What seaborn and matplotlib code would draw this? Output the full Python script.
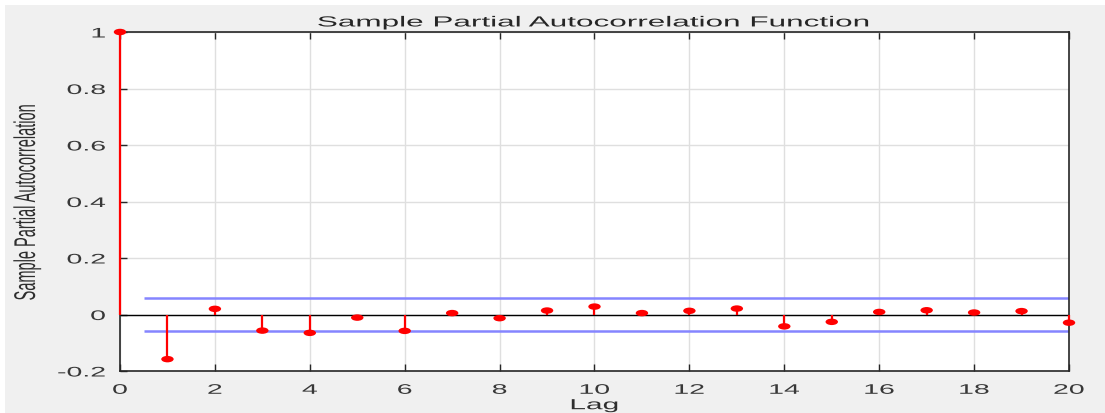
import matplotlib
matplotlib.use("Agg")
import matplotlib.pyplot as plt
import seaborn as sns
import pandas as pd
from matplotlib.patches import Rectangle
from matplotlib.patheffects import AbstractPathEffect
from matplotlib.transforms import Affine2D
from matplotlib.path import Path
from matplotlib.markers import MarkerStyle

lags = list(range(0, 21))
pacf = [1.0, -0.158, 0.020, -0.057, -0.065, -0.011, -0.058, 0.005, -0.013, 0.014,
        0.028, 0.005, 0.013, 0.021, -0.042, -0.026, 0.009, 0.015, 0.007, 0.012, -0.029]
bound = 0.058
bound_start = 0.5
xticks = [0, 2, 4, 6, 8, 10, 12, 14, 16, 18, 20]
yticks = [-0.2, 0, 0.2, 0.4, 0.6, 0.8, 1]
ytick_labels = ["-0.2", "0", "0.2", "0.4", "0.6", "0.8", "1"]


class HStretch(AbstractPathEffect):
    """Draw text stretched horizontally in display space (the reference image is widened)."""

    def __init__(self, sx=2.0, anchor="center"):
        super().__init__()
        self.sx = sx
        self.anchor = anchor

    def draw_path(self, renderer, gc, tpath, affine, rgbFace=None):
        ext = affine.transform_path(tpath).get_extents()
        if self.anchor == "right":
            x0 = ext.x1
        elif self.anchor == "left":
            x0 = ext.x0
        else:
            x0 = (ext.x0 + ext.x1) / 2
        new = affine + Affine2D().translate(-x0, 0).scale(self.sx, 1).translate(x0, 0)
        renderer.draw_path(gc, tpath, new, rgbFace)


sns.set_style("white")
plt.rcParams["font.family"] = ["Liberation Sans", "DejaVu Sans"]

df = pd.DataFrame({"Lag": lags, "PACF": pacf})

fig = plt.figure(figsize=(11.05, 4.14), dpi=100, facecolor="white")
fig.patches.append(Rectangle((5 / 1105, 0), 1, (414 - 6) / 414, transform=fig.transFigure,
                             facecolor="#f0f0f0", edgecolor="none", zorder=-10))
ax = fig.add_axes([120 / 1105, 42 / 414, 949 / 1105, 339 / 414])
ax.set_facecolor("white")

ax.grid(True, color="#dfdfdf", linewidth=1.0)
ax.set_axisbelow(True)

ellipse = MarkerStyle(Path.unit_circle().transformed(Affine2D().scale(1.0, 0.52)))

ax.axhline(0, color="black", linewidth=1.0, zorder=2)
ax.hlines([bound, -bound], bound_start, 20, color="#8585ff", linewidth=1.8, zorder=2)
ax.vlines(df["Lag"], 0, df["PACF"], color="red", linewidth=1.6, zorder=3, clip_on=False)
sns.scatterplot(data=df, x="Lag", y="PACF", ax=ax, color="red", s=80, marker=ellipse,
                edgecolor="none", zorder=4, clip_on=False)

ax.set_xlim(0, 20)
ax.set_ylim(-0.2, 1)
ax.set_xticks(xticks)
ax.set_yticks(yticks)
ax.set_yticklabels(ytick_labels)
ax.tick_params(axis="both", direction="in", length=5, width=1, colors="#262626",
               labelsize=10, top=True, right=False, bottom=True, left=True)
ax.tick_params(axis="x", pad=8.5)
ax.tick_params(axis="y", pad=10.5)
for lbl in ax.get_xticklabels():
    lbl.set_color("#383838")
    lbl.set_path_effects([HStretch(2.05, "center")])
for lbl in ax.get_yticklabels():
    lbl.set_color("#383838")
    lbl.set_path_effects([HStretch(2.05, "right")])
for s in ax.spines.values():
    s.set_color("#262626")
    s.set_linewidth(1.2)

ax.set_xlabel("Lag", fontsize=10.5, color="#2e2e2e", labelpad=1)
ax.xaxis.label.set_path_effects([HStretch(2.05, "center")])
ax.set_ylabel("Sample Partial Autocorrelation", fontsize=10.5, color="#2e2e2e")
ax.yaxis.label.set_va("center")
ax.yaxis.set_label_coords((27 - 120) / 949, 0.5)
ax.yaxis.label.set_path_effects([HStretch(2.05, "center")])
ax.set_title("Sample Partial Autocorrelation Function", fontsize=10.5, color="#262626", pad=4)
ax.title.set_path_effects([HStretch(2.16, "center")])

fig.savefig("out.png", dpi=100, facecolor=fig.get_facecolor())
